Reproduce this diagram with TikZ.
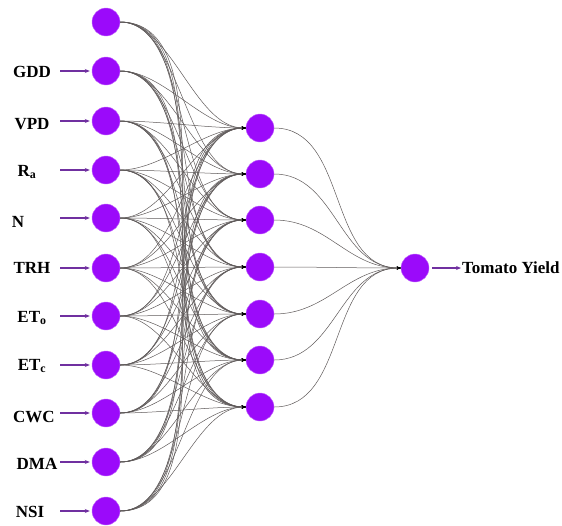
\documentclass[tikz,border=0pt]{standalone}
\usepackage{fontspec}
\setmainfont{Liberation Serif}
\usetikzlibrary{arrows.meta}
\definecolor{neuron}{RGB}{155,10,250}
\definecolor{arrowpurple}{RGB}{112,48,160}
\definecolor{wire}{RGB}{95,90,90}
\begin{document}
\begin{tikzpicture}[x=1pt,y=-1pt,
  neuronnode/.style={circle,fill=neuron,draw=neuron!60,line width=0.4pt,minimum size=28pt,inner sep=0pt},
  lbl/.style={font=\bfseries\fontsize{17}{18}\selectfont,inner sep=1pt},
  inarrow/.style={-{Stealth[length=5pt,width=4pt]},arrowpurple,line width=1.2pt},
  wireline/.style={wire,line width=0.5pt,-{Stealth[length=4pt,width=3pt,black]},out=0,in=180,looseness=0.8}]
\useasboundingbox (0,0) rectangle (562,525);
% input layer
\foreach \k/\yy in {1/22,2/71,3/121,4/170,5/218,6/268,7/316,8/365,9/413,10/462,11/511}
  \node[neuronnode] (i\k) at (106,\yy) {};
% hidden layer
\foreach \k/\yy in {1/128,2/174,3/220,4/267,5/314,6/360,7/407}
  \node[neuronnode] (h\k) at (260,\yy) {};
% output
\node[neuronnode] (o) at (415,268) {};
% connections
\foreach \a in {1,...,11}
  \foreach \b in {1,...,7}
    \draw[wireline] (i\a.east) to (h\b.west);
\foreach \b in {1,...,7}
  \draw[wireline,looseness=1] (h\b.east) to (o.west);
% labels
\node[lbl] (lGDD) at (32,72) {GDD};
\node[lbl] (lVPD) at (32,124) {VPD};
\node[lbl] (lRa) at (27,172) {R\textsubscript{a}};
\node[lbl] (lN) at (18,222) {N};
\node[lbl] (lTRH) at (32,268) {TRH};
\node[lbl] (lETo) at (32,318) {ET\textsubscript{o}};
\node[lbl] (lETc) at (32,366) {ET\textsubscript{c}};
\node[lbl] (lCWC) at (34,417) {CWC};
\node[lbl] (lDMA) at (37,464) {DMA};
\node[lbl] (lNSI) at (30,512) {NSI};
\foreach \k/\yy in {2/71,3/121,4/170,5/218,6/268,7/316,8/365,9/413,10/462,11/511}
  \coordinate (s\k) at (60,\yy);
\foreach \k in {2,...,11}
  \draw[inarrow] (s\k) -- ([xshift=-2pt]i\k.west);
\node[lbl,anchor=west] (ty) at (461,268) {Tomato Yield};
\draw[inarrow] ([xshift=3pt]o.east) -- (ty.west);
\end{tikzpicture}
\end{document}
